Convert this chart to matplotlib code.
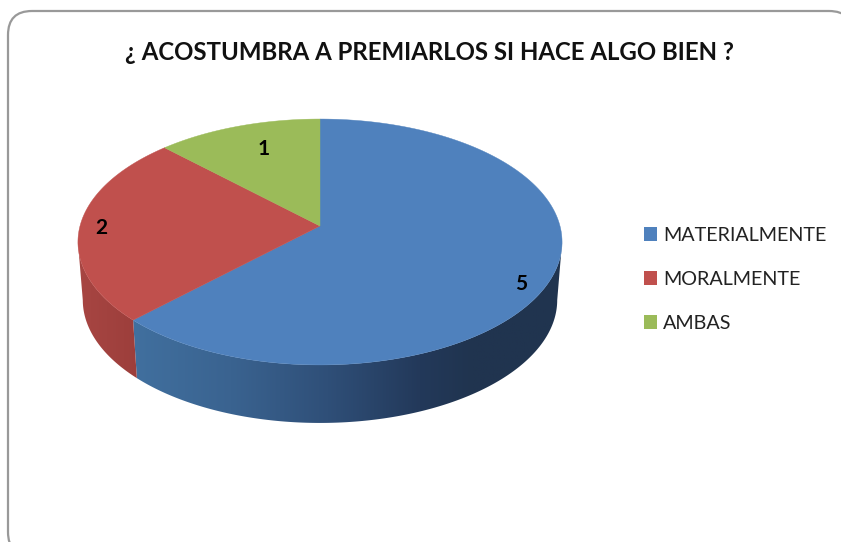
import numpy as np
import matplotlib
matplotlib.use("Agg")
import matplotlib.pyplot as plt
from matplotlib.patches import FancyBboxPatch, Patch, Polygon
from matplotlib.colors import to_rgb, LinearSegmentedColormap

title = "¿ ACOSTUMBRA A PREMIARLOS SI HACE ALGO BIEN ?"
categories = ["MATERIALMENTE", "MORALMENTE", "AMBAS"]
values = [5, 2, 1]
colors = ["#4f81bd", "#c0504d", "#9bbb59"]

# pie geometry in pixels, the tilt is a simple perspective mapping
CX, CY = 320, 226
K = 240
A, C = -91.5, 0.13
DEPTH = 58
BOTTOM_SCALE = 0.98

# side colours from left to right, only the two front slices show a wall
wall_stops = {
    0: (130, 570, [(0.0, "#41709f"), (0.23, "#3a6390"), (0.45, "#2f4f78"), (0.66, "#23395a"), (0.78, "#20344f"), (1.0, "#20344f")]),
    1: (75, 140, [(0.0, "#a84643"), (1.0, "#9c3e3b")]),
}


def project(angle, r=1.0, bottom=False):
    """
        Maps a point of the pie disc (angle in degrees) to the picture
    """
    u = r * np.cos(np.radians(angle))
    v = r * np.sin(np.radians(angle))
    w = C * v + 1
    x = K * u / w
    y = (CY + A * v) / w
    if bottom:
        return CX + BOTTOM_SCALE * x, y + DEPTH
    return CX + x, y


fig = plt.figure(figsize=(8.41, 5.42), dpi=100)
ax = fig.add_axes([0, 0, 1, 1])
plt.rcParams["font.family"] = ["Lato", "DejaVu Sans"]

# chart frame, it runs off the right and bottom of the picture
ax.add_patch(FancyBboxPatch((8, 11), 845, 545, boxstyle="round,pad=0,rounding_size=24",
                            fc="white", ec="#999999", lw=1.6))

# slices, clockwise from the top
total = sum(values)
starts = 90 - np.cumsum([0] + values[:-1]) / total * 360
ends = 90 - np.cumsum(values) / total * 360

# side walls first, gradient image clipped to the wall outline
for i in wall_stops:
    x_left, x_right, stops = wall_stops[i]
    angles = np.linspace(starts[i], ends[i], 400)
    # the wall outline leaves the disc where the picture x is widest
    angles = angles[np.sin(np.radians(angles)) < -0.13]
    top_x, top_y = project(angles)
    bot_x, bot_y = project(angles, bottom=True)
    outline = np.c_[np.r_[top_x, bot_x[::-1]], np.r_[top_y, bot_y[::-1]]]
    poly = Polygon(outline, closed=True, fc="none", ec="none", transform=ax.transData)
    ax.add_patch(poly)
    cmap = LinearSegmentedColormap.from_list("wall%d" % i, [(p, to_rgb(c)) for p, c in stops])
    im = ax.imshow(np.linspace(0, 1, 256)[None, :], cmap=cmap, aspect="auto",
                   extent=(x_left, x_right, 450, 200), zorder=1.5)
    im.set_clip_path(poly)

# top faces
for i in range(len(values)):
    angles = np.linspace(starts[i], ends[i], 200)
    xs, ys = project(angles)
    ax.fill(np.r_[CX, xs], np.r_[CY, ys], color=colors[i], lw=0.3, zorder=2)

ax.set_xlim(0, 841)
ax.set_ylim(542, 0)
ax.axis("off")

# data labels
label_x = [521, 101, 264]
label_y = [284, 228, 149]
for v, x, y in zip(values, label_x, label_y):
    ax.text(x, y, str(v), fontsize=15, fontweight="bold", color="black", ha="center", va="center", zorder=3)

ax.text(429, 52, title, fontsize=17.3, fontweight="bold", color="#111111", ha="center", va="center", zorder=3)

handles = [Patch(fc=c, ec="none", label=n) for c, n in zip(colors, categories)]
leg = ax.legend(handles=handles, loc="upper left", bbox_to_anchor=(644, 227), bbox_transform=ax.transData,
                frameon=False, fontsize=14.2, labelcolor="#222222", handlelength=0.66, handleheight=0.66,
                handletextpad=0.3, labelspacing=1.37, borderpad=0, borderaxespad=0)
leg.set_zorder(3)

fig.savefig("out.png", dpi=100)
